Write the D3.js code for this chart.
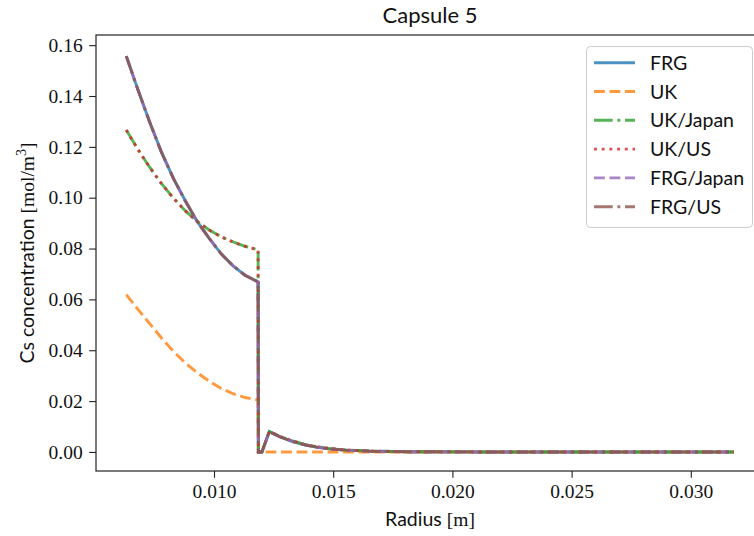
<!DOCTYPE html>
<meta charset="utf-8">
<script src="https://d3js.org/d3.v7.min.js"></script>
<style>
  body { margin: 0; background: white; }
  .sans { font-family: 'Lato', sans-serif; }
  .serif { font-family: 'Liberation Serif', serif; }
</style>
<body>
<div id="chart"></div>
<script>

// radius grid [m]
var radius = [0.00632, 0.0068, 0.0073, 0.0078, 0.0083, 0.0088, 0.0093, 0.0098, 0.0103, 0.0108,
              0.0113, 0.01185, 0.01186, 0.01201, 0.01232, 0.0128, 0.0133, 0.0138, 0.0143, 0.0148,
              0.0155, 0.0165, 0.018, 0.021, 0.024, 0.027, 0.030, 0.0318]

var frg = [0.1557, 0.1427, 0.1298, 0.1178, 0.1075, 0.0987, 0.0906, 0.0840, 0.0779, 0.0732,
           0.0695, 0.0669, 0, 0, 0.0080, 0.0058, 0.0041, 0.0028, 0.0019, 0.0012,
           0.0007, 0.0003, 0.0001, 0, 0, 0, 0, 0]
var uk = [0.0619, 0.0562, 0.0505, 0.0448, 0.0395, 0.0350, 0.0311, 0.0278, 0.0250, 0.0229,
          0.0214, 0.0204, 0, 0, 0, 0, 0, 0, 0, 0,
          0, 0, 0, 0, 0, 0, 0, 0]
var ukJapan = [0.1266, 0.1191, 0.1120, 0.1055, 0.0998, 0.0948, 0.0906, 0.0873, 0.0846, 0.0826,
               0.0809, 0.0795, 0, 0, 0.0080, 0.0060, 0.0043, 0.0030, 0.0021, 0.0014,
               0.0008, 0.0004, 0.0001, 0, 0, 0, 0, 0]
var ukUs = [0.1266, 0.1191, 0.1120, 0.1055, 0.0998, 0.0948, 0.0906, 0.0873, 0.0846, 0.0826,
            0.0809, 0.0795, 0, 0, 0.0080, 0.0060, 0.0043, 0.0030, 0.0021, 0.0014,
            0.0008, 0.0004, 0.0001, 0, 0, 0, 0, 0]
var frgJapan = [0.1557, 0.1427, 0.1298, 0.1178, 0.1075, 0.0987, 0.0906, 0.0840, 0.0779, 0.0732,
                0.0695, 0.0669, 0, 0, 0.0080, 0.0058, 0.0041, 0.0028, 0.0019, 0.0012,
                0.0007, 0.0003, 0.0001, 0, 0, 0, 0, 0]
var frgUs = [0.1557, 0.1427, 0.1298, 0.1178, 0.1075, 0.0987, 0.0906, 0.0840, 0.0779, 0.0732,
             0.0695, 0.0669, 0, 0, 0.0080, 0.0058, 0.0041, 0.0028, 0.0019, 0.0012,
             0.0007, 0.0003, 0.0001, 0, 0, 0, 0, 0]

var seriesNames = ["FRG", "UK", "UK/Japan", "UK/US", "FRG/Japan", "FRG/US"]
var seriesValues = [frg, uk, ukJapan, ukUs, frgJapan, frgUs]
var xTicks = [0.010, 0.015, 0.020, 0.025, 0.030]
var yTicks = [0.00, 0.02, 0.04, 0.06, 0.08, 0.10, 0.12, 0.14, 0.16]

var colors = ["#1f77b4", "#ff7f0e", "#2ca02c", "#d62728", "#9467bd", "#8c564b"]
var dashes = [null, "10.8,4.7", "18.7,4.7,2.9,4.7", "2.9,4.8", "10.8,4.7", "18.7,4.7,2.9,4.7"]

var width = 754,
    height = 536,
    axL = 96, axR = 764, axT = 35, axB = 471

var svg = d3.select("#chart")
  .append("svg")
    .attr("width", width)
    .attr("height", height)

var x = d3.scaleLinear()
  .domain([0.00505, 0.03307])
  .range([axL, axR])

var y = d3.scaleLinear()
  .domain([-0.0075, 0.164])
  .range([axB, axT])

svg.append("clipPath")
    .attr("id", "clip")
  .append("rect")
    .attr("x", axL).attr("y", axT)
    .attr("width", axR - axL).attr("height", axB - axT)

var line = d3.line()
  .x(function(d) { return x(d[0]) })
  .y(function(d) { return y(d[1]) })

var plot = svg.append("g").attr("clip-path", "url(#clip)")

seriesValues.forEach(function(vals, i) {
  plot.append("path")
    .datum(radius.map(function(r, j) { return [r, vals[j]] }))
    .attr("d", line)
    .attr("fill", "none")
    .attr("stroke", colors[i])
    .attr("stroke-opacity", 0.8)
    .attr("stroke-width", 2.9)
    .attr("stroke-dasharray", dashes[i])
})

// axes
var xAxis = svg.append("g")
  .attr("transform", "translate(0," + axB + ")")
  .call(d3.axisBottom(x).tickValues(xTicks).tickSize(6.8).tickPadding(6.5)
    .tickFormat(function(d) { return d.toFixed(3) }))

var yAxis = svg.append("g")
  .attr("transform", "translate(" + axL + ",0)")
  .call(d3.axisLeft(y).tickValues(yTicks).tickSize(6.8).tickPadding(6.5)
    .tickFormat(function(d) { return d.toFixed(2) }))

svg.selectAll(".domain").remove()
svg.selectAll(".tick line").attr("stroke", "#222").attr("stroke-width", 1.1)
svg.selectAll(".tick text")
  .attr("class", "serif")
  .style("font-size", "19.5px")
  .attr("fill", "#111")

svg.append("rect")
  .attr("x", axL).attr("y", axT)
  .attr("width", axR - axL).attr("height", axB - axT)
  .attr("fill", "none")
  .attr("stroke", "#222")
  .attr("stroke-width", 1.2)

// title and labels
svg.append("text")
  .attr("class", "sans")
  .attr("x", (axL + axR) / 2)
  .attr("y", 23)
  .attr("text-anchor", "middle")
  .style("font-size", "22px")
  .attr("fill", "#111")
  .text("Capsule 5")

var xl = svg.append("text")
  .attr("x", (axL + axR) / 2)
  .attr("y", 526)
  .attr("text-anchor", "middle")
  .attr("fill", "#111")
xl.append("tspan").attr("class", "sans").style("font-size", "19.5px").text("Radius ")
xl.append("tspan").attr("class", "serif").style("font-size", "19.5px").text("[m]")

var yl = svg.append("text")
  .attr("transform", "translate(34," + (axT + axB) / 2 + ") rotate(-90)")
  .attr("text-anchor", "middle")
  .attr("fill", "#111")
yl.append("tspan").attr("class", "sans").style("font-size", "19.5px").text("Cs concentration ")
yl.append("tspan").attr("class", "serif").style("font-size", "19.5px").text("[mol/m")
yl.append("tspan").attr("class", "serif").style("font-size", "14px").attr("dy", "-8").text("3")
yl.append("tspan").attr("class", "serif").style("font-size", "19.5px").attr("dy", "8").text("]")

// legend
var legend = svg.append("g")

legend.append("rect")
  .attr("x", 586.5).attr("y", 46.5)
  .attr("width", 166).attr("height", 181)
  .attr("rx", 4)
  .attr("fill", "white")
  .attr("fill-opacity", 0.8)
  .attr("stroke", "#cccccc")
  .attr("stroke-width", 1)

var rowY = d3.scaleLinear().domain([0, 5]).range([62.7, 206.7])

seriesNames.forEach(function(name, i) {
  legend.append("line")
    .attr("x1", 594).attr("x2", 635)
    .attr("y1", rowY(i)).attr("y2", rowY(i))
    .attr("stroke", colors[i])
    .attr("stroke-opacity", 0.8)
    .attr("stroke-width", 2.9)
    .attr("stroke-dasharray", dashes[i])
  legend.append("text")
    .attr("class", "sans")
    .attr("x", 650)
    .attr("y", rowY(i))
    .attr("dy", "0.36em")
    .style("font-size", "19.5px")
    .attr("fill", "#111")
    .text(name)
})

</script>
</body>
